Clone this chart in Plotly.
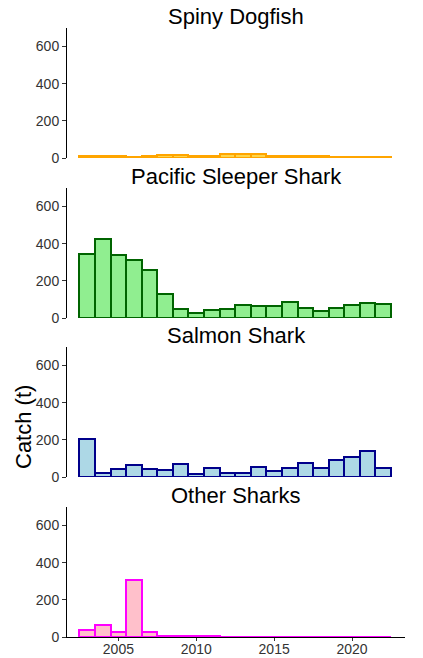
import plotly.graph_objects as go

W, H = 423, 658

years = list(range(2003, 2023))
panel_titles = ["Spiny Dogfish", "Pacific Sleeper Shark", "Salmon Shark", "Other Sharks"]

spiny_dogfish = [12, 12, 11, 8, 10, 17, 18, 12, 10, 20, 24, 20, 12, 10, 10, 9, 8, 6, 5, 5]
pacific_sleeper = [344, 424, 337, 313, 259, 128, 49, 29, 45, 46, 69, 63, 63, 85, 56, 38, 52, 69, 83, 76]
salmon_shark = [204, 23, 43, 65, 43, 38, 70, 15, 47, 23, 23, 56, 33, 47, 74, 47, 92, 108, 141, 47]
other_sharks = [37, 63, 28, 309, 28, 7, 8, 4, 3, 2, 1, 1, 1, 1, 1, 1, 1, 1, 1, 1]

series = [spiny_dogfish, pacific_sleeper, salmon_shark, other_sharks]
fills = ["#FFD54A", "#90EE90", "#ADD8E6", "#FFC0CB"]
outlines = ["#FFA500", "#006400", "#00008B", "#FF00FF"]

x_ticks = [2005, 2010, 2015, 2020]
y_ticks = [0, 200, 400, 600]

# pixel layout (top, bottom) of each panel
panel_px = [(28, 158), (188, 318), (347, 477), (507, 637)]
x_px = (67, 405)

FONT = "Liberation Sans, Arial, sans-serif"

fig = go.Figure()
for i, (vals, fc, lc) in enumerate(zip(series, fills, outlines)):
    ax = "" if i == 0 else str(i + 1)
    fig.add_trace(go.Bar(
        x=years, y=vals, width=1,
        marker=dict(color=fc, line=dict(color=lc, width=2)),
        xaxis="x" + ax, yaxis="y" + ax, showlegend=False, cliponaxis=False,
        hoverinfo="skip",
    ))
    top, bot = panel_px[i]
    dom_y = [1 - bot / H, 1 - top / H]
    last = i == 3
    fig.layout["xaxis" + ax] = dict(
        domain=[x_px[0] / W, x_px[1] / W], range=[2001.7, 2023.4],
        anchor="y" + ax, automargin=False,
        showline=last, linecolor="black", linewidth=1,
        ticks="outside" if last else "", ticklen=3, tickcolor="#333333",
        showticklabels=last, tickvals=x_ticks, ticklabelstandoff=-4,
        tickfont=dict(family=FONT, size=14, color="#333333"),
        showgrid=False, zeroline=False,
    )
    fig.layout["yaxis" + ax] = dict(
        domain=dom_y, range=[0, 700], anchor="x" + ax, automargin=False,
        showline=True, linecolor="black", linewidth=1,
        ticks="outside", ticklen=4, tickcolor="#333333",
        tickvals=y_ticks,
        tickfont=dict(family=FONT, size=14, color="#333333"),
        showgrid=False, zeroline=False,
    )
    fig.add_annotation(
        text=panel_titles[i], xref="paper", yref="paper",
        x=(x_px[0] + x_px[1]) / 2 / W, y=dom_y[1], yanchor="bottom", xanchor="center",
        yshift=-3, showarrow=False,
        font=dict(family=FONT, size=22, color="black"),
    )

fig.add_annotation(
    text="Catch (t)", xref="paper", yref="paper",
    x=23 / W, y=1 - 427 / H, xanchor="center", yanchor="middle",
    textangle=-90, showarrow=False,
    font=dict(family=FONT, size=22, color="black"),
)

fig.update_layout(
    width=W, height=H, margin=dict(l=0, r=0, t=0, b=0),
    paper_bgcolor="white", plot_bgcolor="white", bargap=0,
)

fig.write_html(
    "out.html",
    config={"displayModeBar": False},
    post_script="document.body.style.margin='0';document.body.style.overflow='hidden';",
)
